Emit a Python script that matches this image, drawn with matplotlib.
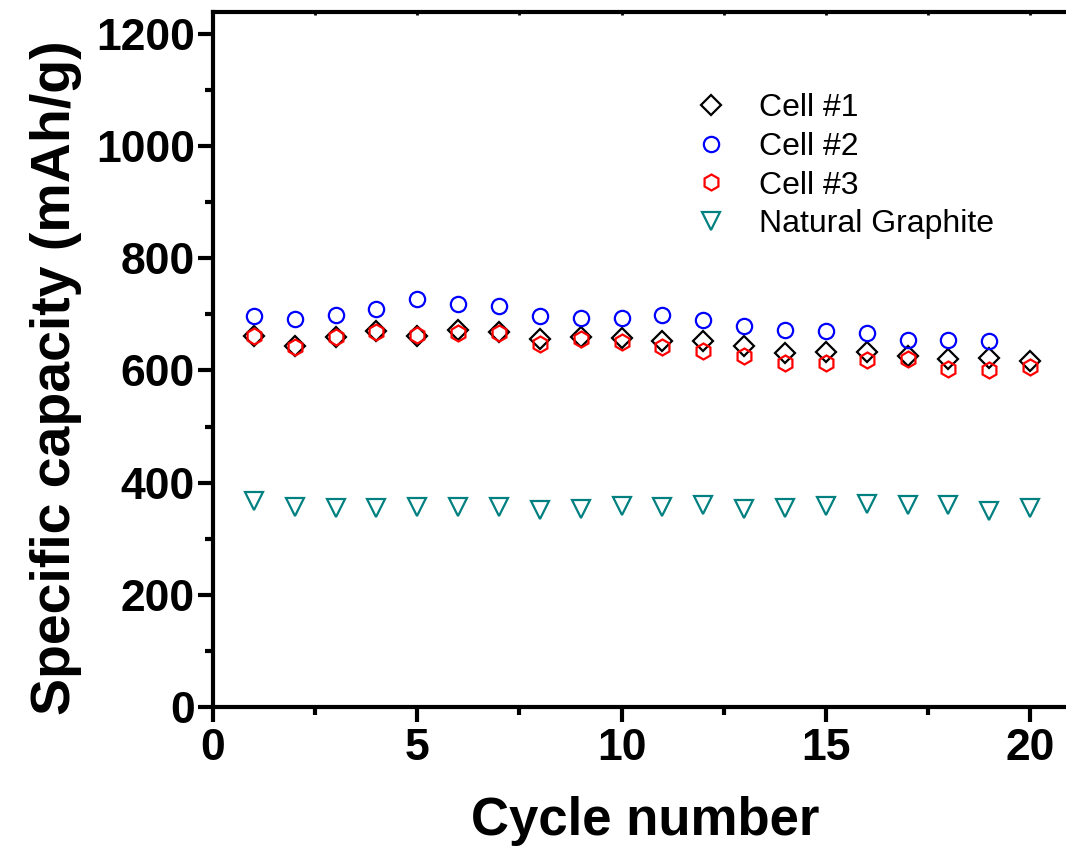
import matplotlib
matplotlib.use("Agg")
import matplotlib.pyplot as plt
from matplotlib.ticker import MultipleLocator

# cycle number and specific capacity (mAh/g)
cycles = list(range(1, 21))
cell1 = [661, 644, 659, 670, 661, 672, 669, 656, 659, 657,
         652, 653, 644, 631, 632, 633, 626, 620, 622, 616]
cell2 = [697, 691, 699, 709, 727, 718, 714, 697, 694, 693,
         699, 690, 680, 672, 671, 666, 654, 654, 652]
cell3 = [661, 641, 659, 669, 663, 667, 666, 647, 656, 651,
         642, 635, 626, 614, 614, 619, 620, 602, 601, 606]
graphite = [368, 356, 355, 354, 357, 357, 357, 351, 353, 358,
            356, 360, 353, 354, 358, 362, 361, 360, 350, 354]

labels = ["Cell #1", "Cell #2", "Cell #3", "Natural Graphite"]

plt.rcParams['font.family'] = ['Liberation Sans', 'DejaVu Sans']

fig = plt.figure(figsize=(10.66, 8.56), dpi=100)
ax = fig.add_axes([213 / 1066, 149 / 856, 858 / 1066, 695 / 856])

ax.plot(cycles, cell1, ls='none', marker='D', ms=9.8, mfc='none',
        mec='black', mew=1.6, label=labels[0])
ax.plot(cycles[:len(cell2)], cell2, ls='none', marker='o', ms=11, mfc='none',
        mec='#0000ff', mew=1.6, label=labels[1])
ax.plot(cycles, cell3, ls='none', marker='h', ms=11.5, mfc='none',
        mec='#ff0000', mew=1.6, label=labels[2])
ax.plot(cycles, graphite, ls='none', marker='v', ms=13.5, mfc='none',
        mec='#008080', mew=1.6, label=labels[3])

ax.set_xlim(0, 21)
ax.set_ylim(0, 1239)
ax.xaxis.set_major_locator(MultipleLocator(5))
ax.xaxis.set_minor_locator(MultipleLocator(2.5))
ax.yaxis.set_major_locator(MultipleLocator(200))
ax.yaxis.set_minor_locator(MultipleLocator(100))

for s in ax.spines.values():
    s.set_linewidth(3)
ax.spines['right'].set_visible(False)

ax.tick_params(axis='both', which='major', direction='out', length=11,
               width=3, labelsize=32)
ax.tick_params(axis='both', which='minor', direction='out', length=6,
               width=3)
ax.tick_params(axis='x', which='major', pad=4)
ax.tick_params(axis='y', which='major', pad=2)
for lab in ax.get_xticklabels() + ax.get_yticklabels():
    lab.set_fontweight('bold')
# short inward ticks on the top axis
ax.secondary_xaxis('top').tick_params(direction='in', length=2, width=2,
                                      labeltop=False)

ax.set_xlabel("Cycle number", fontsize=38, fontweight='bold')
ax.set_ylabel("Specific capacity (mAh/g)", fontsize=40, fontweight='bold')
ax.xaxis.set_label_coords(0.5036, -0.128)
ax.yaxis.set_label_coords(-0.153, 0.474)

ax.legend(loc='upper left', bbox_to_anchor=(0.5615, 0.883), frameon=False,
          fontsize=23, numpoints=1, handlelength=1.0, handletextpad=1.0,
          labelspacing=0.27, borderpad=0, borderaxespad=0)

fig.savefig("out.png", dpi=100)
